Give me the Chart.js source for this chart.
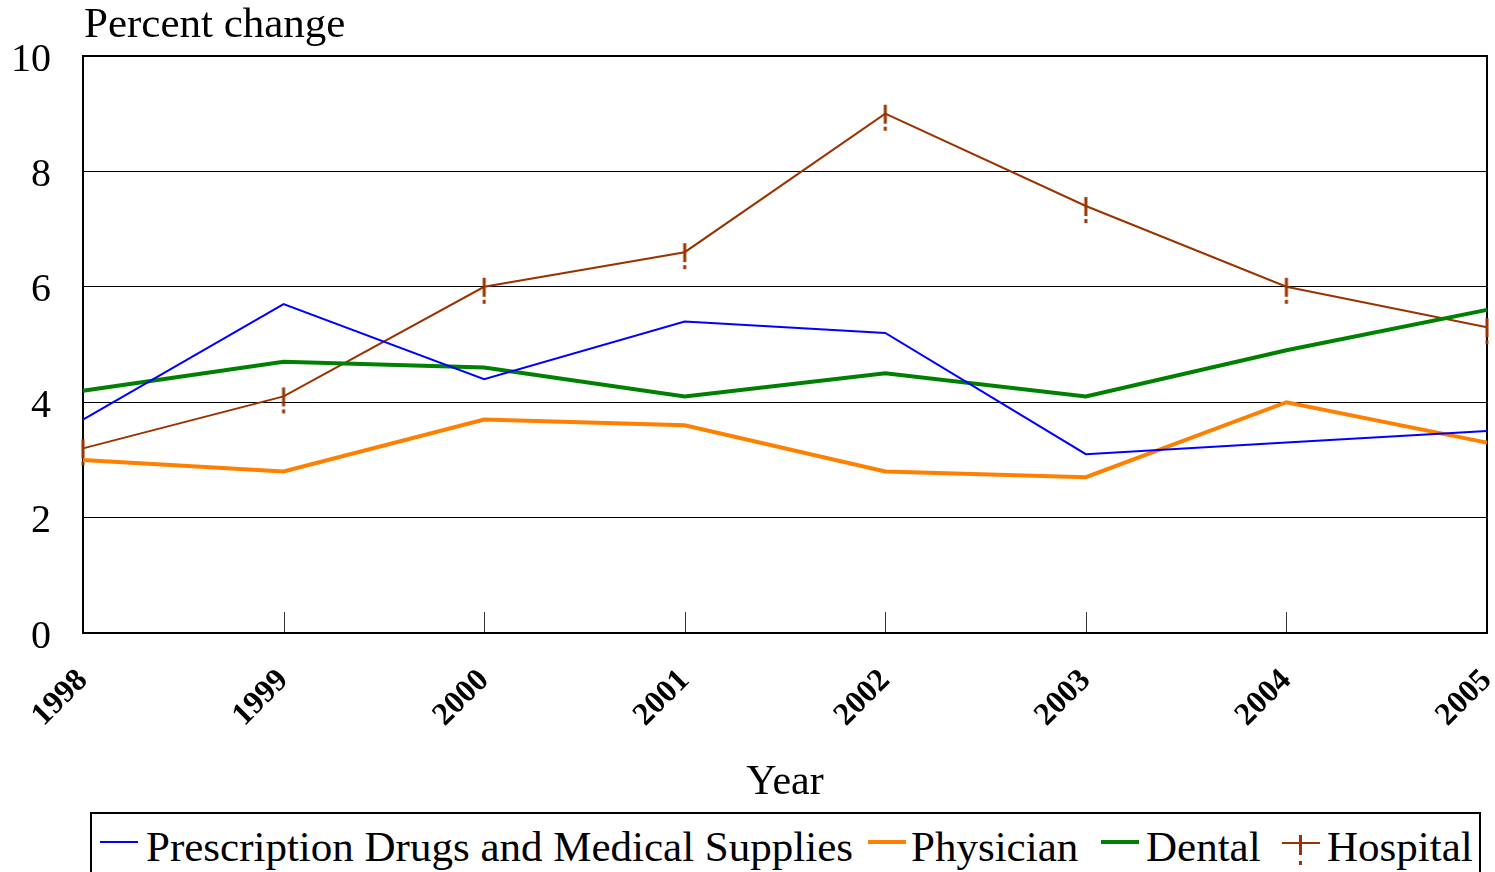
<!DOCTYPE html>
<html>
<head>
<meta charset="utf-8">
<script src="https://cdn.jsdelivr.net/npm/chart.js@4.4.0/dist/chart.umd.min.js"></script>
<style>
body { margin: 0; background: #fff; overflow: hidden; font-family: "Liberation Serif", "Times New Roman", serif; }
#wrap { position: absolute; left: 0; top: 0; width: 1495px; height: 812px; }
#legend { position: absolute; left: 90px; top: 812px; width: 1387px; height: 80px; border: 2px solid #000; }
.sw { position: absolute; width: 38px; }
.lb { position: absolute; top: 11px; font-size: 43px; line-height: 43px; color: #000; white-space: nowrap; }
.bar { position: absolute; left: 17px; width: 3px; background: #993300; }
</style>
</head>
<body>
<div id="wrap"><canvas id="chart"></canvas></div>
<div id="legend">
  <span class="sw" style="left:8px;top:27px;height:2px;background:#0000ff"></span>
  <span class="lb" style="left:54px">Prescription Drugs and Medical Supplies</span>
  <span class="sw" style="left:776px;top:26px;height:4px;background:#ff8000"></span>
  <span class="lb" style="left:819px">Physician</span>
  <span class="sw" style="left:1009px;top:26px;height:4px;background:#008000"></span>
  <span class="lb" style="left:1054px">Dental</span>
  <span class="sw" style="left:1190px;top:28px;height:2px;background:#993300">
    <span class="bar" style="top:-7px;height:20px"></span>
    <span class="bar" style="top:19px;height:4px"></span>
  </span>
  <span class="lb" style="left:1235px">Hospital</span>
</div>
<script>
// data
const years = ['1998', '1999', '2000', '2001', '2002', '2003', '2004', '2005'];
const drugs = [3.7, 5.7, 4.4, 5.4, 5.2, 3.1, 3.3, 3.5];
const physician = [3.0, 2.8, 3.7, 3.6, 2.8, 2.7, 4.0, 3.3];
const dental = [4.2, 4.7, 4.6, 4.1, 4.5, 4.1, 4.9, 5.6];
const hospital = [3.2, 4.1, 6.0, 6.6, 9.0, 7.4, 6.0, 5.3];
const yTicks = [0, 2, 4, 6, 8, 10];

const SERIF = '"Liberation Serif", "Times New Roman", serif';

// "!" shaped marker used for the hospital series
function bangMarker(color) {
    const c = document.createElement('canvas');
    c.width = 6;
    c.height = 48;
    const g = c.getContext('2d');
    g.fillStyle = color;
    g.fillRect(1.5, 15, 3, 19);
    g.fillRect(1.5, 37, 3, 4);
    return c;
}

// frame, inside tick marks and the top-left axis caption
const framePlugin = {
    id: 'frame',
    beforeDatasetsDraw(chart) {
        const a = chart.chartArea;
        const ctx = chart.ctx;
        const x = chart.scales.x;
        ctx.save();
        ctx.strokeStyle = '#333';
        ctx.lineWidth = 1;
        years.forEach((y, i) => {
            const px = Math.round(x.getPixelForValue(i)) + 0.5;
            ctx.beginPath();
            ctx.moveTo(px, a.bottom);
            ctx.lineTo(px, a.bottom - 21);
            ctx.stroke();
        });
        ctx.strokeStyle = '#000';
        ctx.lineWidth = 2;
        ctx.strokeRect(a.left, a.top, a.right - a.left, a.bottom - a.top);
        ctx.restore();
    },
    afterDraw(chart) {
        const ctx = chart.ctx;
        ctx.save();
        ctx.fillStyle = '#000';
        ctx.font = '43px ' + SERIF;
        ctx.textBaseline = 'alphabetic';
        ctx.textAlign = 'left';
        ctx.fillText('Percent change', chart.chartArea.left + 1, 37);
        ctx.restore();
    }
};

const ctx = document.getElementById('chart').getContext('2d');
new Chart(ctx, {
    type: 'line',
    data: {
        labels: years,
        datasets: [
            { label: 'Prescription Drugs and Medical Supplies', data: drugs, borderColor: '#0000ff', borderWidth: 2, pointRadius: 0 },
            { label: 'Physician', data: physician, borderColor: '#ff8000', borderWidth: 4, pointRadius: 0 },
            { label: 'Dental', data: dental, borderColor: '#008000', borderWidth: 4, pointRadius: 0 },
            { label: 'Hospital', data: hospital, borderColor: '#993300', borderWidth: 2, pointRadius: 6,
              pointStyle: bangMarker('#993300'), clip: false }
        ]
    },
    options: {
        responsive: true,
        maintainAspectRatio: false,
        animation: false,
        events: [],
        layout: { padding: { top: 56, right: 7, left: 0, bottom: 0 } },
        plugins: {
            legend: { display: false },
            tooltip: { enabled: false }
        },
        scales: {
            x: {
                offset: false,
                grid: { display: false },
                border: { display: false },
                ticks: {
                    color: '#000',
                    font: { family: SERIF, size: 32, weight: 'bold' },
                    minRotation: 45,
                    maxRotation: 45,
                    padding: 21,
                    autoSkip: false
                },
                title: {
                    display: true,
                    text: 'Year',
                    color: '#000',
                    font: { family: SERIF, size: 42 },
                    padding: { top: 0, bottom: 4 }
                },
                afterFit(scale) {
                    scale.height = 179;
                    scale.paddingLeft = 0;
                    scale.paddingRight = 0;
                }
            },
            y: {
                min: 0,
                max: 10,
                grid: { color: '#000', lineWidth: 1, drawTicks: false },
                border: { display: false },
                afterBuildTicks(scale) {
                    scale.ticks = yTicks.map(v => ({ value: v }));
                },
                ticks: {
                    color: '#000',
                    font: { family: SERIF, size: 40 },
                    padding: 32,
                    labelOffset: 4
                },
                afterFit(scale) {
                    scale.width = 83;
                }
            }
        }
    },
    plugins: [framePlugin]
});
</script>
</body>
</html>
